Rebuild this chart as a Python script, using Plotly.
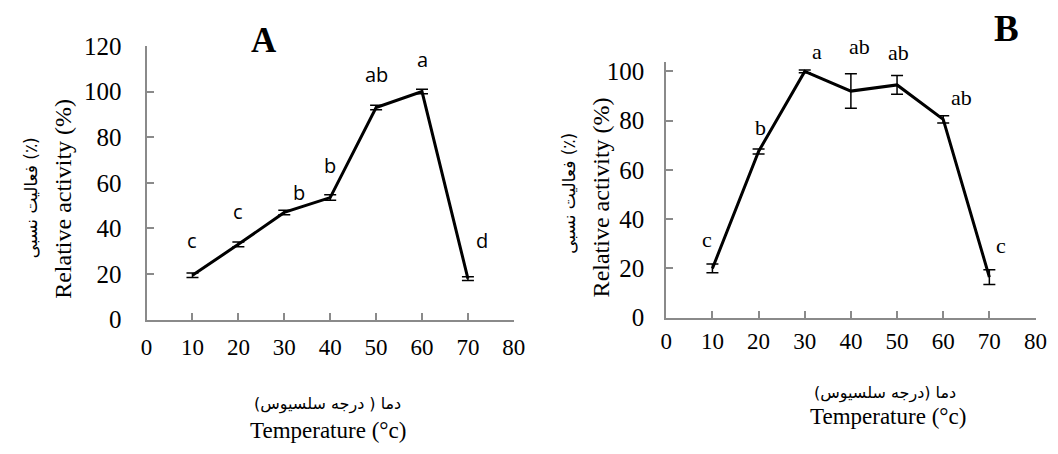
import plotly.graph_objects as go

temps = [10, 20, 30, 40, 50, 60, 70]

# Panel A
act_A = [19.5, 33, 47, 53.5, 93, 100, 18]
err_A = [1.0, 1.0, 1.0, 1.2, 1.0, 1.0, 0.8]
lbl_A = ["c", "c", "b", "b", "ab", "a", "d"]

# Panel B
act_B = [20, 67.5, 100, 92, 94.5, 80.5, 16.5]
err_B = [1.8, 1.0, 0.6, 7.0, 3.8, 1.5, 3.0]
lbl_B = ["c", "b", "a", "ab", "ab", "ab", "c"]

x_ticks = [0, 10, 20, 30, 40, 50, 60, 70, 80]

# label pixel offsets (layout only)
off_A = [(0, 33), (0, 32), (15, 19), (0, 31), (0, 32), (0, 31), (14, 37)]
off_B = [(-5, 28), (2, 23), (12, 19), (9, 43), (1, 31), (18, 21), (12, 30)]

W, H = 1058, 454
SX, OX = 0.993, 2.0
SY, OY = 0.962, 8.35


def px(x):
    return (x - OX) / SX


def py(y):
    return (y - OY) / SY


serif = "Liberation Serif"
persian = "DejaVu Sans"
axcol = "#8a8a8a"

fig = go.Figure()
fig.add_trace(go.Scatter(
    x=temps, y=act_A, mode="lines", line=dict(color="black", width=3),
    error_y=dict(type="data", array=err_A, color="black", thickness=1.5, width=6),
    xaxis="x", yaxis="y", showlegend=False))
fig.add_trace(go.Scatter(
    x=temps, y=act_B, mode="lines", line=dict(color="black", width=3),
    error_y=dict(type="data", array=err_B, color="black", thickness=1.5, width=6),
    xaxis="x2", yaxis="y2", showlegend=False))

common_x = dict(tickmode="array", tickvals=x_ticks, ticks="inside", ticklen=7,
                tickcolor=axcol, tickwidth=1.5, showline=True, linecolor=axcol,
                linewidth=2, showgrid=False, zeroline=False,
                tickfont=dict(family=serif, size=23, color="black"), range=[0, 80])
common_y = dict(ticks="inside", ticklen=7, tickcolor=axcol, tickwidth=1.5,
                showline=True, linecolor=axcol, linewidth=2, showgrid=False,
                zeroline=False, tickfont=dict(family=serif, size=25, color="black"),
                dtick=20)

fig.update_layout(
    width=W, height=H, margin=dict(l=0, r=0, t=0, b=0),
    font=dict(family=serif, color="black"),
    paper_bgcolor="white", plot_bgcolor="white",
    xaxis=dict(domain=[px(144) / W, px(515) / W], anchor="y", ticklabelstandoff=6, **common_x),
    yaxis=dict(domain=[1 - py(322) / H, 1 - py(42) / H], anchor="x", range=[0, 120],
               ticklabelstandoff=18, **common_y),
    xaxis2=dict(domain=[px(669) / W, px(1042) / W], anchor="y2", ticklabelstandoff=2, **common_x),
    yaxis2=dict(domain=[1 - py(320) / H, 1 - py(58) / H], anchor="x2", range=[0, 104],
                ticklabelstandoff=15, **common_y),
)

ann = []
for t, v, l, (dx, dy) in zip(temps, act_A, lbl_A, off_A):
    ann.append(dict(x=t, y=v, xref="x", yref="y", text=l, showarrow=False,
                    xshift=dx / SX, yshift=dy / SY, xanchor="center", yanchor="middle",
                    font=dict(family="Open Sans", size=20, color="black")))
for t, v, l, (dx, dy) in zip(temps, act_B, lbl_B, off_B):
    ann.append(dict(x=t, y=v, xref="x2", yref="y2", text=l, showarrow=False,
                    xshift=dx / SX, yshift=dy / SY, xanchor="center", yanchor="middle",
                    font=dict(family=serif, size=22, color="black")))


def pa(x, y, text, size, family, angle=0, bold=False):
    return dict(x=px(x) / W, y=1 - py(y) / H, xref="paper", yref="paper",
                text=f"<b>{text}</b>" if bold else text,
                showarrow=False, xanchor="center", yanchor="middle", textangle=angle,
                font=dict(family=family, size=size, color="black"))


ann += [
    pa(263, 36, "A", 35, serif, bold=True),
    pa(1013, 24, "B", 37, serif, bold=True),
    pa(60, 198, "Relative activity (%)", 24, serif, angle=-90),
    pa(28, 197, "فعالیت نسبی (٪)", 17, persian, angle=-90),
    pa(603, 197, "Relative activity (%)", 24, serif, angle=-90),
    pa(570, 193, "فعالیت نسبی (٪)", 17, persian, angle=-90),
    pa(327, 408, "دما ( درجه سلسیوس)", 16, persian),
    pa(327, 435, "Temperature (°c)", 23, serif),
    pa(890, 397, "دما (درجه سلسیوس)", 16, persian),
    pa(893, 421, "Temperature (°c)", 23, serif),
]
fig.update_layout(annotations=ann)

fig.write_html("out.html")
